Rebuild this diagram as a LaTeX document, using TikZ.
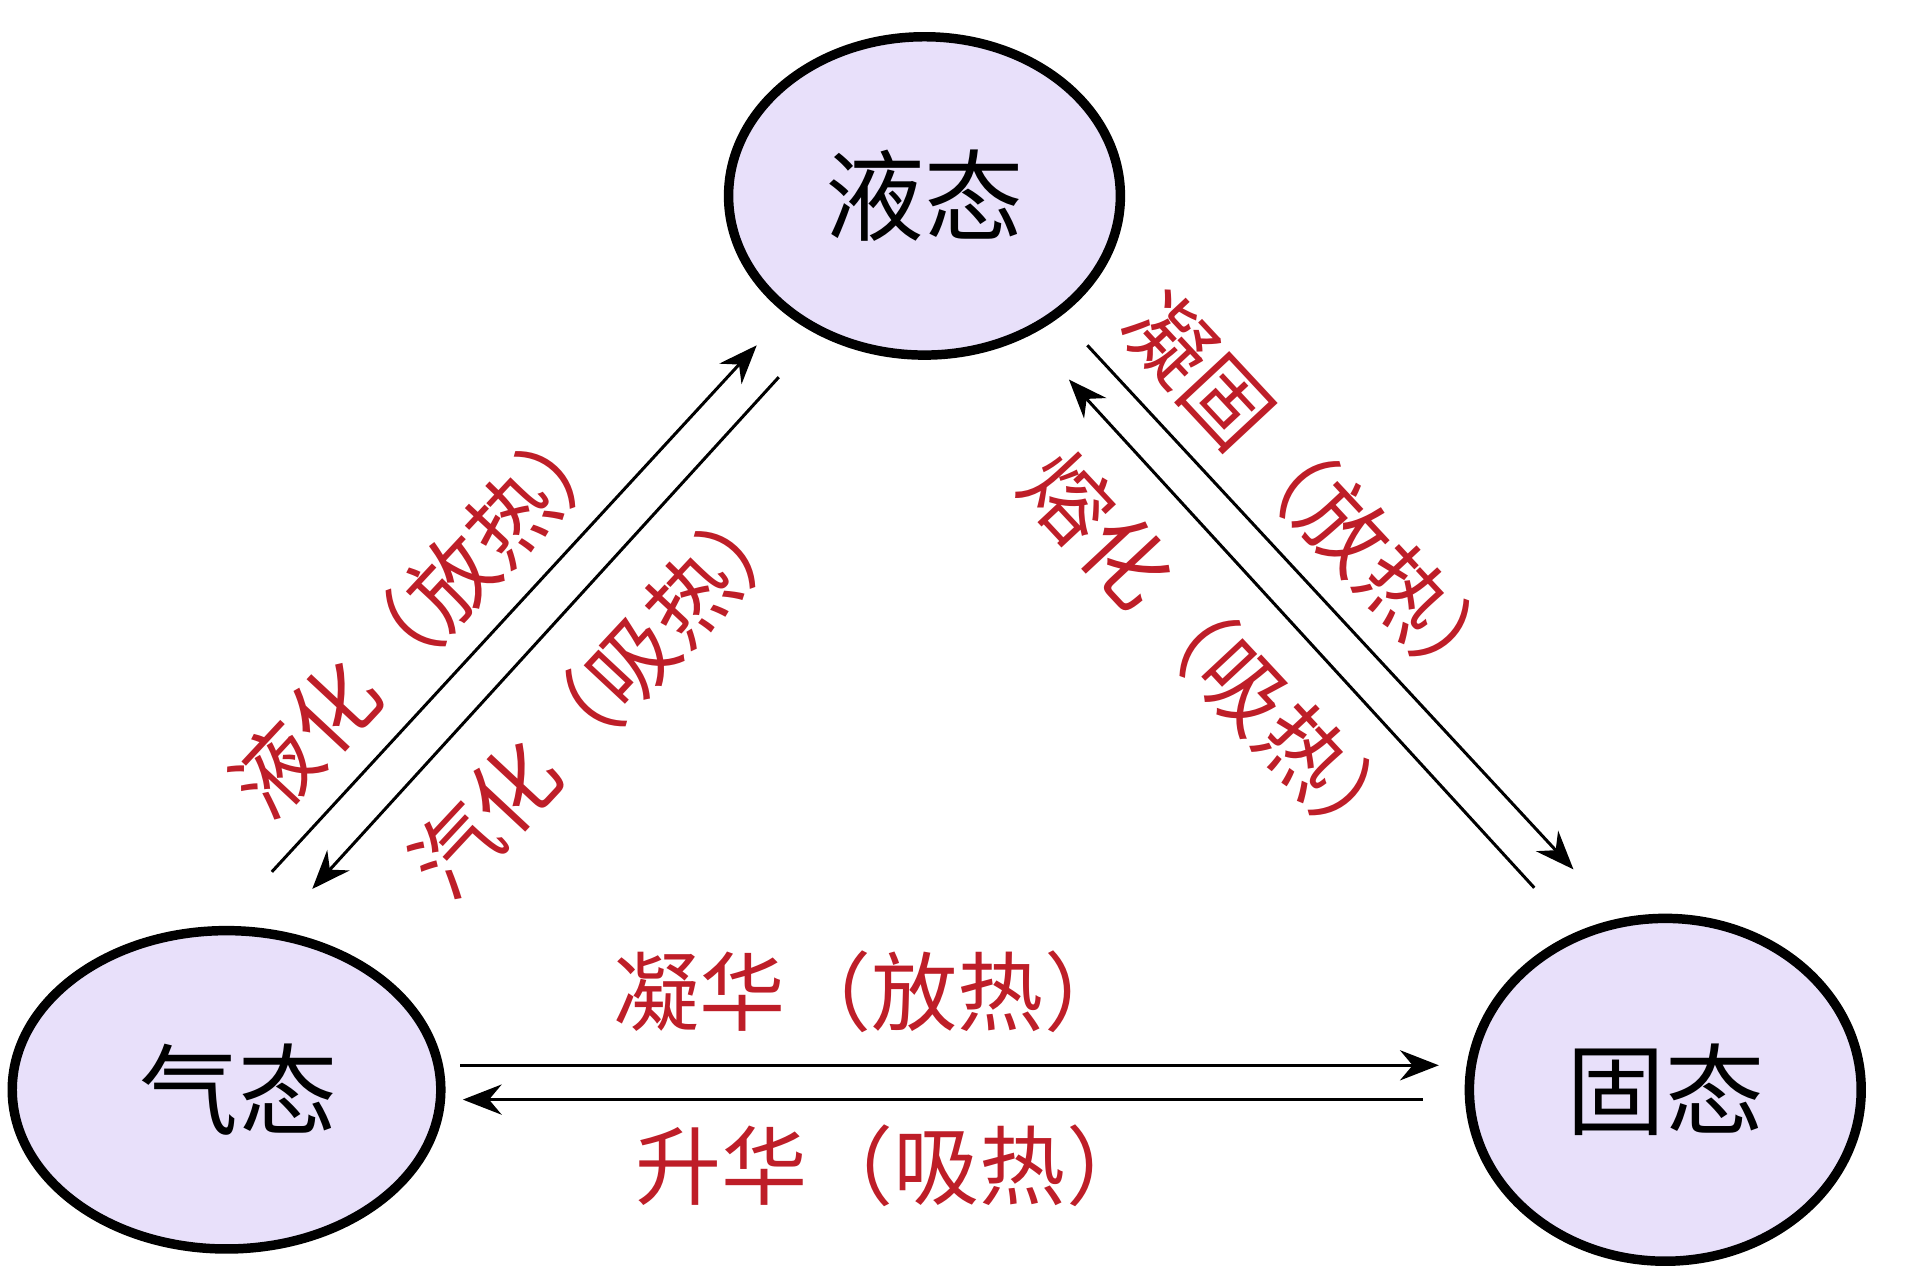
\documentclass[tikz,border=0pt]{standalone}
\usepackage{fontspec}
\usetikzlibrary{arrows.meta}
\newfontfamily\cjk{Noto Sans CJK SC}
\definecolor{lav}{RGB}{232,224,250}
\definecolor{redtxt}{RGB}{190,30,40}
\begin{document}
\begin{tikzpicture}[x=0.01cm,y=-0.01cm,
  state/.style={draw=black,line width=2.2pt,fill=lav},
  stxt/.style={font=\cjk\fontsize{23}{23}\selectfont},
  lbl/.style={text=redtxt,font=\cjk\fontsize{20}{20}\selectfont},
  arr/.style={-{Stealth[length=9pt,width=7pt]},line width=0.7pt}]
\useasboundingbox (0,0) rectangle (1568,1045);
\fill[white] (0,0) rectangle (1568,1045);
\draw[state] (755,160) ellipse [x radius=160,y radius=130];
\draw[state] (185,890) ellipse [x radius=175,y radius=130];
\draw[state] (1360,890) ellipse [x radius=160,y radius=140];
\node[stxt] (L) at (755,160) {液态};
\node[stxt] (G) at (195,890) {气态};
\node[stxt] (S) at (1360,890) {固态};
\coordinate (a1) at (222,712); \coordinate (a2) at (618,282);
\coordinate (b1) at (636,308); \coordinate (b2) at (255,726);
\coordinate (c1) at (1253,725); \coordinate (c2) at (873,310);
\coordinate (d1) at (888,282); \coordinate (d2) at (1285,710);
\coordinate (e1) at (376,870); \coordinate (e2) at (1175,870);
\coordinate (f1) at (1162,898); \coordinate (f2) at (378,898);
\draw[arr] (a1) -- (a2);
\draw[arr] (b1) -- (b2);
\draw[arr] (c1) -- (c2);
\draw[arr] (d1) -- (d2);
\draw[arr] (e1) -- (e2);
\draw[arr] (f1) -- (f2);
\node[lbl,rotate=47] (t1) at (345,500) {液化（放热）};
\node[lbl,rotate=47] (t2) at (492,565) {汽化（吸热）};
\node[lbl,rotate=-47] (t3) at (1075,405) {凝固（放热）};
\node[lbl,rotate=-47] (t4) at (993,535) {熔化（吸热）};
\node[lbl] (t5) at (712,810) {凝华（放热）};
\node[lbl] (t6) at (730,952) {升华（吸热）};
\end{tikzpicture}
\end{document}
